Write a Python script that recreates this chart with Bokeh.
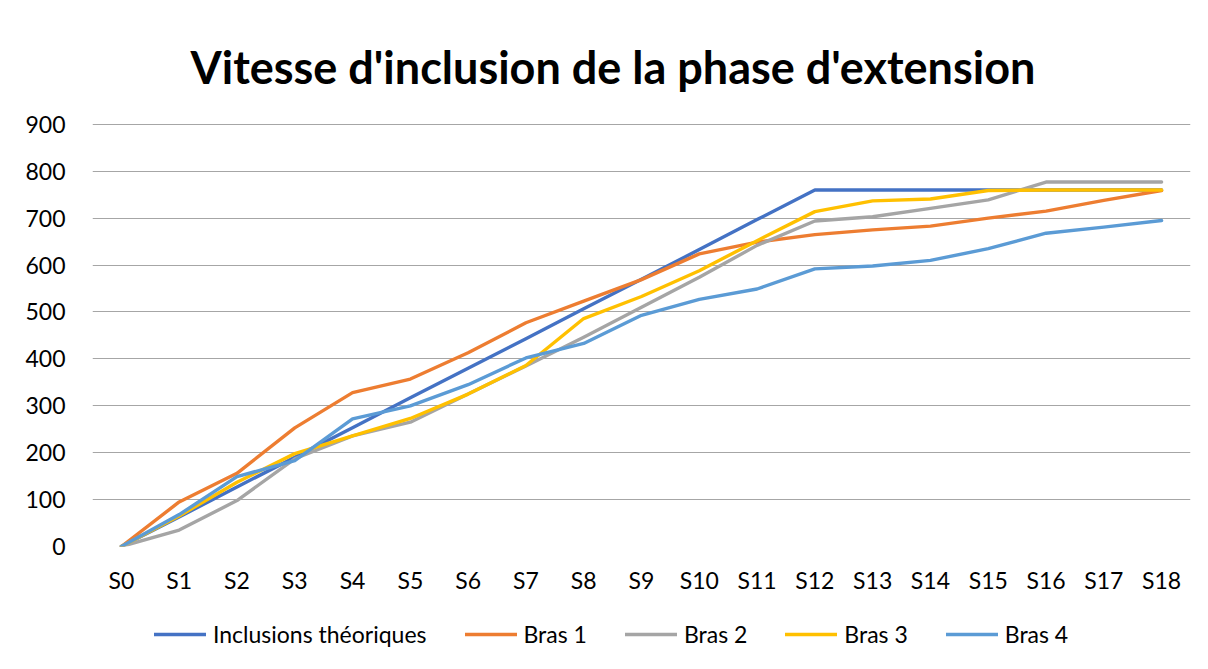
from bokeh.plotting import figure
from bokeh.models import Legend, LegendItem, SingleIntervalTicker, Range1d
from bokeh.layouts import column
from bokeh.embed import file_html
from bokeh.resources import INLINE

categories = ["S%d" % i for i in range(19)]
theorique = [0, 63, 127, 190, 253, 317, 380, 443, 507, 570, 633, 697, 760, 760, 760, 760, 760, 760, 760]
bras1 = [0, 95, 156, 253, 328, 357, 413, 477, 523, 569, 624, 649, 665, 675, 683, 700, 715, 738, 759]
bras2 = [0, 35, 98, 187, 236, 265, 325, 385, 446, 510, 574, 642, 694, 703, 721, 739, 777, 777, 777]
bras3 = [0, 65, 137, 198, 236, 273, 325, 386, 486, 533, 588, 652, 714, 737, 741, 759, 760, 760, 760]
bras4 = [0, 68, 149, 183, 272, 300, 345, 402, 433, 493, 527, 549, 592, 598, 610, 635, 668, 681, 695]

series_names = ["Inclusions théoriques", "Bras 1", "Bras 2", "Bras 3", "Bras 4"]
series_values = [theorique, bras1, bras2, bras3, bras4]
colors = ["#4472C4", "#ED7D31", "#A5A5A5", "#FFC000", "#5B9BD5"]

FONT = "Lato"

p = figure(frame_width=1098, frame_height=424, x_range=categories, y_range=Range1d(0, 904),
           output_backend="svg", toolbar_location=None,
           title="Vitesse d'inclusion de la phase d'extension")
p.x_range.range_padding = 0
p.min_border_left = 92
p.min_border_right = 18
p.min_border_top = 122
p.min_border_bottom = 60
p.outline_line_color = None
p.background_fill_color = "white"
p.border_fill_color = "white"

p.title.text_font = FONT
p.title.text_font_style = "bold"
p.title.text_font_size = "45px"
p.title.align = "left"
p.title.offset = 98
p.title.text_color = "#000000"
p.title.standoff = 57

p.xgrid.grid_line_color = None
p.ygrid.grid_line_color = "#A6A6A6"
p.ygrid.grid_line_width = 1
p.yaxis.ticker = SingleIntervalTicker(interval=100)

for ax in (p.xaxis[0], p.yaxis[0]):
    ax.axis_line_color = None
    ax.major_tick_line_color = None
    ax.minor_tick_line_color = None
    ax.major_tick_in = 0
    ax.major_tick_out = 0
    ax.major_label_text_font = FONT
    ax.major_label_text_font_size = "23px"
    ax.major_label_text_color = "#000000"
p.xaxis.major_label_standoff = 19
p.yaxis.major_label_standoff = 23

for name, vals, col in zip(series_names, series_values, colors):
    p.line(categories, vals, line_color=col, line_width=3.4,
           line_cap="round", line_join="round")

# legend strip below the chart (its frame is aligned with the chart's frame)
p2 = figure(width=1208, height=63, x_range=(0, 1), y_range=(0, 1),
            output_backend="svg", toolbar_location=None,
            x_axis_location=None, y_axis_location=None)
p2.min_border = 0
p2.outline_line_color = None
p2.background_fill_color = "white"
p2.border_fill_color = "white"
p2.xgrid.grid_line_color = None
p2.ygrid.grid_line_color = None

items = []
for name, col in zip(series_names, colors):
    # swatch-only renderer: its points lie outside the strip's visible range
    r = p2.line(x=[-3, -2], y=[-3, -3], line_color=col, line_width=3.4, line_cap="round")
    items.append(LegendItem(label=name, renderers=[r]))

legend = Legend(items=items, orientation="horizontal", location=(62, 21),
                label_text_font=FONT, label_text_font_size="23px",
                label_text_color="#000000", glyph_width=52, glyph_height=24,
                label_height=24, label_standoff=7,
                spacing=38, border_line_color=None, background_fill_alpha=0,
                margin=0, padding=0)
p2.add_layout(legend)

layout = column(p, p2, spacing=0)
open("out.html", "w").write(file_html(layout, INLINE))
